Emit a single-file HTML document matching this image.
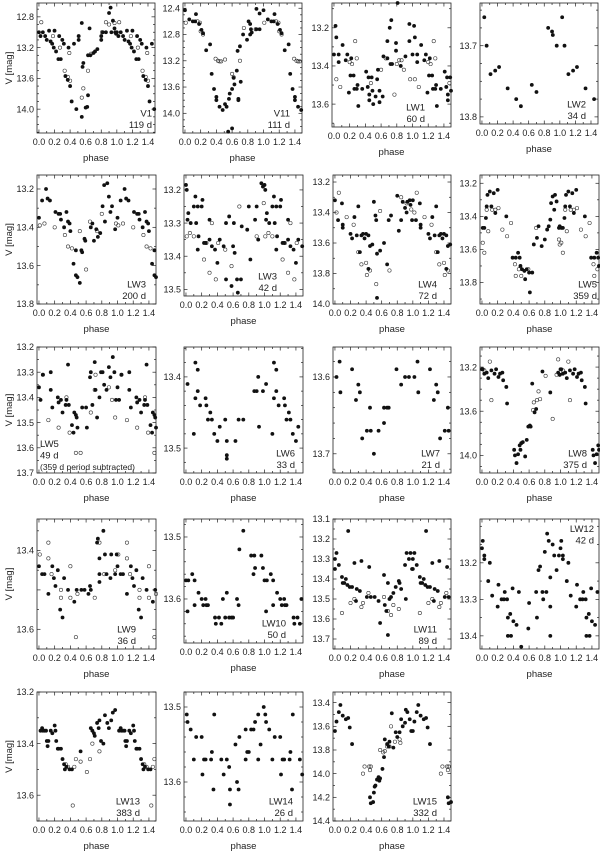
<!DOCTYPE html>
<html><head><meta charset="utf-8"><style>
html,body{margin:0;padding:0;background:#fff;}
svg{display:block;font-family:"Liberation Sans",sans-serif;}
</style></head><body>
<svg id="fig" width="600" height="852" viewBox="0 0 600 852" xmlns="http://www.w3.org/2000/svg"></svg>
<script>
// ---- data: [phase, V mag] for phase 0..1 (plotted again at phase+1) ----
const v1F=[[0,13.0],[0.02,13.05],[0.05,13.0],[0.08,13.05],[0.1,13.1],[0.13,12.98],[0.15,13.12],[0.17,13.15],[0.19,13.2],[0.2,12.98],[0.22,13.25],[0.25,13.35],[0.26,13.05],[0.28,13.35],[0.3,13.1],[0.32,13.15],[0.34,13.57],[0.37,13.62],[0.38,13.2],[0.4,13.7],[0.42,13.9],[0.45,13.15],[0.48,14.0],[0.51,13.1],[0.51,13.05],[0.55,14.1],[0.55,12.88],[0.57,13.4],[0.56,13.45],[0.6,13.98],[0.62,13.97],[0.63,13.82],[0.63,13.3],[0.65,12.95],[0.66,13.3],[0.7,13.27],[0.72,13.25],[0.75,13.22],[0.8,13.05],[0.8,13.1],[0.82,13.0],[0.86,13.0],[0.9,12.75],[0.92,12.68],[0.93,13.0],[0.95,12.85],[0.97,12.95],[0.98,13.0],[0.99,13.02]];
const v1O=[[0.03,12.87],[0.18,13.05],[0.27,13.2],[0.33,13.5],[0.37,13.58],[0.39,13.27],[0.4,13.63],[0.55,13.85],[0.57,13.73],[0.63,13.5],[0.67,13.28],[0.81,13.0],[0.86,12.87],[0.9,12.9],[0.97,12.88]];
const v11F=[[0,12.43],[0.055,12.57],[0.1,12.6],[0.13,12.6],[0.14,12.49],[0.18,12.64],[0.21,12.73],[0.23,12.78],[0.27,13.04],[0.32,12.95],[0.34,13.4],[0.37,13.63],[0.4,13.75],[0.4,13.8],[0.44,13.9],[0.48,13.95],[0.51,13.86],[0.53,13.9],[0.55,14.28],[0.6,14.23],[0.56,13.78],[0.57,13.7],[0.6,13.63],[0.63,13.56],[0.62,13.46],[0.66,13.35],[0.67,13.05],[0.68,13.78],[0.68,13.8],[0.71,13.52],[0.7,12.98],[0.74,12.8],[0.79,12.88],[0.81,12.6],[0.83,12.64],[0.83,12.8],[0.85,12.77],[0.84,12.72],[0.91,12.72],[0.91,12.41],[0.95,12.48],[0.95,12.72]];
const v11O=[[0.01,12.62],[0.16,12.6],[0.19,12.62],[0.2,12.75],[0.23,12.8],[0.39,13.17],[0.42,13.2],[0.44,13.21],[0.46,13.21],[0.51,13.18],[0.7,13.2],[0.6,13.4],[0.62,13.45],[0.75,12.7],[0.9,12.72]];
const lw1F=[[0,13.34],[0.02,13.19],[0.03,13.25],[0.06,13.34],[0.06,13.38],[0.11,13.29],[0.15,13.37],[0.17,13.34],[0.19,13.54],[0.21,13.45],[0.22,13.36],[0.25,13.45],[0.26,13.52],[0.3,13.5],[0.31,13.61],[0.29,13.52],[0.36,13.52],[0.41,13.43],[0.43,13.51],[0.44,13.46],[0.45,13.55],[0.45,13.58],[0.48,13.46],[0.49,13.53],[0.5,13.6],[0.53,13.56],[0.55,13.47],[0.56,13.42],[0.58,13.59],[0.58,13.53],[0.62,13.56],[0.63,13.35],[0.68,13.36],[0.68,13.27],[0.71,13.2],[0.73,13.16],[0.72,13.39],[0.74,13.39],[0.79,13.32],[0.79,13.28],[0.81,13.07],[0.85,13.4],[0.88,13.04],[0.91,13.35],[0.96,13.27],[0.96,13.18]];
const lw1O=[[0.03,13.47],[0.08,13.51],[0.2,13.38],[0.23,13.39],[0.27,13.27],[0.29,13.36],[0.47,13.49],[0.6,13.42],[0.66,13.36],[0.8,13.39],[0.77,13.55],[0.83,13.37],[0.86,13.37],[0.89,13.42],[0.97,13.47]];
const lw2F=[[0.03,13.66],[0.06,13.7],[0.11,13.74],[0.17,13.735],[0.22,13.73],[0.33,13.76],[0.44,13.775],[0.5,13.785],[0.64,13.755],[0.7,13.765],[0.85,13.675],[0.9,13.68],[0.91,13.685],[0.96,13.7]];
const lw2O=[];
const lw3aF=[[0,13.35],[0.04,13.26],[0.09,13.2],[0.11,13.25],[0.14,13.26],[0.21,13.32],[0.25,13.33],[0.27,13.33],[0.28,13.36],[0.32,13.4],[0.35,13.32],[0.37,13.37],[0.39,13.38],[0.4,13.42],[0.47,13.52],[0.44,13.59],[0.47,13.65],[0.49,13.66],[0.52,13.69],[0.54,13.52],[0.55,13.53],[0.58,13.46],[0.59,13.47],[0.66,13.4],[0.68,13.38],[0.7,13.47],[0.73,13.41],[0.75,13.45],[0.78,13.43],[0.81,13.29],[0.83,13.18],[0.84,13.37],[0.87,13.17],[0.89,13.24],[0.91,13.32],[0.93,13.29],[0.97,13.41]];
const lw3aO=[[0.01,13.39],[0.07,13.38],[0.2,13.4],[0.33,13.44],[0.37,13.5],[0.42,13.51],[0.52,13.42],[0.6,13.62],[0.65,13.37],[0.74,13.42],[0.8,13.33],[0.98,13.38]];
const lw3bF=[[0,13.185],[0.01,13.2],[0.03,13.27],[0.02,13.29],[0.06,13.3],[0.1,13.25],[0.12,13.22],[0.13,13.3],[0.15,13.25],[0.16,13.34],[0.15,13.38],[0.2,13.25],[0.21,13.23],[0.23,13.36],[0.25,13.36],[0.3,13.29],[0.3,13.35],[0.33,13.37],[0.37,13.38],[0.4,13.42],[0.43,13.35],[0.48,13.37],[0.51,13.3],[0.51,13.47],[0.55,13.28],[0.58,13.49],[0.6,13.37],[0.61,13.3],[0.62,13.39],[0.65,13.47],[0.66,13.51],[0.7,13.47],[0.71,13.31],[0.78,13.32],[0.8,13.25],[0.82,13.41],[0.88,13.29],[0.9,13.25],[0.92,13.35],[0.96,13.18],[0.98,13.19]];
const lw3bO=[[0.01,13.34],[0.05,13.33],[0.1,13.34],[0.23,13.41],[0.26,13.36],[0.3,13.45],[0.33,13.3],[0.38,13.47],[0.41,13.36],[0.5,13.38],[0.58,13.43],[0.68,13.25],[0.9,13.34],[0.99,13.24]];
const lw4F=[[0,13.32],[0.04,13.45],[0.09,13.34],[0.1,13.48],[0.1,13.5],[0.2,13.54],[0.22,13.57],[0.25,13.43],[0.28,13.55],[0.3,13.36],[0.32,13.66],[0.34,13.55],[0.36,13.54],[0.38,13.57],[0.4,13.54],[0.43,13.55],[0.43,13.77],[0.45,13.62],[0.48,13.61],[0.5,13.33],[0.52,13.42],[0.53,13.45],[0.54,13.67],[0.54,13.96],[0.58,13.65],[0.63,13.6],[0.67,13.74],[0.69,13.45],[0.72,13.42],[0.8,13.29],[0.82,13.52],[0.85,13.45],[0.87,13.33],[0.9,13.37],[0.92,13.4],[0.93,13.33],[0.96,13.32],[0.97,13.35],[0.99,13.45]];
const lw4O=[[0.05,13.27],[0.02,13.4],[0.15,13.43],[0.24,13.48],[0.3,13.66],[0.34,13.74],[0.4,13.73],[0.41,13.81],[0.45,13.78],[0.53,13.87],[0.58,13.39],[0.7,13.78],[0.85,13.3],[0.92,13.34],[0.98,13.38]];
const lw5aF=[[0.01,13.47],[0.03,13.47],[0.05,13.41],[0.06,13.34],[0.07,13.27],[0.1,13.25],[0.12,13.34],[0.15,13.26],[0.17,13.38],[0.2,13.24],[0.31,13.4],[0.39,13.65],[0.43,13.65],[0.46,13.62],[0.48,13.65],[0.49,13.7],[0.51,13.72],[0.54,13.73],[0.55,13.78],[0.57,13.72],[0.6,13.74],[0.61,13.86],[0.64,13.74],[0.66,13.57],[0.7,13.53],[0.72,13.46],[0.76,13.58],[0.8,13.54],[0.83,13.48],[0.85,13.46],[0.87,13.42],[0.88,13.32],[0.9,13.28],[0.92,13.36],[0.93,13.27],[0.95,13.31],[0.98,13.47],[0.99,13.46]];
const lw5aO=[[0.01,13.56],[0.03,13.62],[0.06,13.36],[0.08,13.49],[0.13,13.36],[0.17,13.36],[0.21,13.35],[0.26,13.48],[0.32,13.52],[0.37,13.44],[0.42,13.69],[0.43,13.76],[0.47,13.72],[0.5,13.76],[0.59,13.72],[0.69,13.47],[0.98,13.54],[0.99,13.57]];
const lw5bF=[[0,13.36],[0.02,13.41],[0.05,13.31],[0.15,13.3],[0.15,13.37],[0.17,13.44],[0.24,13.4],[0.25,13.42],[0.28,13.41],[0.3,13.46],[0.34,13.43],[0.35,13.41],[0.37,13.27],[0.38,13.43],[0.42,13.51],[0.44,13.54],[0.45,13.46],[0.47,13.47],[0.48,13.48],[0.49,13.52],[0.55,13.44],[0.6,13.44],[0.61,13.52],[0.65,13.32],[0.66,13.3],[0.68,13.43],[0.71,13.26],[0.72,13.37],[0.74,13.48],[0.77,13.4],[0.79,13.3],[0.81,13.3],[0.83,13.35],[0.86,13.37],[0.89,13.28],[0.91,13.32],[0.94,13.24],[0.96,13.3],[0.98,13.41]];
const lw5bO=[[0.05,13.31],[0.12,13.49],[0.25,13.52],[0.35,13.4],[0.39,13.54],[0.47,13.62],[0.53,13.62],[0.66,13.46],[0.71,13.37],[0.72,13.31],[0.89,13.36],[0.93,13.41],[0.97,13.48]];
const lw6F=[[0.02,13.41],[0.1,13.48],[0.12,13.38],[0.15,13.39],[0.15,13.42],[0.12,13.43],[0.18,13.44],[0.25,13.43],[0.26,13.44],[0.28,13.46],[0.31,13.45],[0.33,13.46],[0.36,13.48],[0.4,13.49],[0.43,13.47],[0.5,13.46],[0.52,13.49],[0.52,13.51],[0.52,13.515],[0.63,13.49],[0.67,13.46],[0.73,13.46],[0.87,13.42],[0.9,13.42],[0.92,13.4],[0.93,13.47],[0.98,13.42]];
const lw6O=[];
const lw7F=[[0.02,13.6],[0.06,13.58],[0.07,13.62],[0.22,13.59],[0.27,13.63],[0.3,13.61],[0.32,13.62],[0.35,13.68],[0.41,13.67],[0.45,13.64],[0.46,13.67],[0.5,13.7],[0.56,13.67],[0.63,13.64],[0.63,13.66],[0.67,13.64],[0.69,13.64],[0.79,13.59],[0.85,13.61],[0.9,13.6],[0.95,13.6]];
const lw7O=[];
const lw8F=[[0,13.22],[0.01,13.22],[0.03,13.26],[0.06,13.25],[0.08,13.3],[0.12,13.23],[0.16,13.26],[0.18,13.22],[0.21,13.29],[0.23,13.26],[0.26,13.25],[0.27,13.32],[0.31,13.38],[0.32,13.53],[0.41,13.95],[0.42,14.0],[0.44,14.07],[0.46,13.99],[0.48,13.91],[0.49,13.95],[0.5,13.89],[0.52,13.88],[0.55,14.01],[0.57,13.86],[0.59,13.74],[0.61,13.73],[0.62,13.74],[0.64,13.35],[0.67,13.61],[0.69,13.58],[0.77,13.24],[0.87,13.43],[0.97,13.25],[0.99,13.27]];
const lw8O=[[0.03,13.23],[0.1,13.15],[0.12,13.5],[0.65,13.59],[0.66,13.52],[0.7,13.5],[0.72,13.42],[0.74,13.49],[0.81,13.28],[0.9,13.67],[0.95,13.27],[0.97,13.13],[0.99,13.27]];
const lw9F=[[0,13.44],[0.04,13.46],[0.07,13.46],[0.12,13.51],[0.17,13.44],[0.19,13.47],[0.21,13.49],[0.24,13.45],[0.27,13.55],[0.3,13.57],[0.32,13.47],[0.37,13.5],[0.45,13.53],[0.48,13.5],[0.54,13.5],[0.58,13.5],[0.63,13.51],[0.65,13.49],[0.66,13.5],[0.74,13.38],[0.75,13.37],[0.77,13.42],[0.77,13.48],[0.77,13.46],[0.82,13.35],[0.86,13.46],[0.84,13.41],[0.91,13.47],[0.92,13.41],[0.97,13.46],[0.99,13.41]];
const lw9O=[[0.01,13.41],[0.12,13.38],[0.12,13.42],[0.16,13.46],[0.28,13.5],[0.28,13.52],[0.4,13.44],[0.4,13.52],[0.47,13.62],[0.49,13.51],[0.71,13.52],[0.77,13.38],[0.83,13.46],[0.97,13.45]];
const lw10F=[[0,13.57],[0.02,13.62],[0.03,13.57],[0.08,13.56],[0.11,13.57],[0.11,13.61],[0.16,13.59],[0.2,13.6],[0.22,13.61],[0.25,13.6],[0.26,13.61],[0.28,13.61],[0.37,13.63],[0.38,13.64],[0.42,13.63],[0.45,13.64],[0.47,13.6],[0.5,13.63],[0.52,13.59],[0.55,13.63],[0.58,13.63],[0.6,13.63],[0.65,13.6],[0.67,13.61],[0.68,13.52],[0.73,13.49],[0.83,13.53],[0.87,13.53],[0.86,13.56],[0.88,13.55],[0.96,13.53],[0.98,13.55]];
const lw10O=[];
const lw11F=[[0,13.3],[0,13.35],[0.02,13.27],[0.05,13.33],[0.09,13.39],[0.1,13.42],[0.12,13.42],[0.14,13.4],[0.16,13.43],[0.17,13.16],[0.19,13.44],[0.22,13.44],[0.25,13.32],[0.27,13.51],[0.28,13.45],[0.32,13.46],[0.34,13.31],[0.41,13.49],[0.44,13.34],[0.46,13.49],[0.51,13.49],[0.56,13.51],[0.58,13.62],[0.63,13.38],[0.64,13.53],[0.66,13.56],[0.68,13.42],[0.68,13.68],[0.7,13.5],[0.72,13.49],[0.75,13.47],[0.78,13.44],[0.82,13.41],[0.83,13.42],[0.85,13.45],[0.9,13.33],[0.91,13.5],[0.92,13.27],[0.95,13.3],[0.97,13.27],[0.99,13.35]];
const lw11O=[[0.09,13.57],[0.2,13.52],[0.25,13.5],[0.34,13.54],[0.36,13.52],[0.43,13.47],[0.63,13.49],[0.68,13.56],[0.72,13.58],[0.75,13.53],[0.82,13.55]];
const lw12F=[[0,13.16],[0.01,13.14],[0.03,13.18],[0.03,13.19],[0.08,13.25],[0.1,13.2],[0.13,13.29],[0.2,13.32],[0.21,13.26],[0.25,13.3],[0.28,13.3],[0.29,13.28],[0.32,13.3],[0.33,13.35],[0.33,13.4],[0.36,13.34],[0.37,13.4],[0.39,13.27],[0.4,13.36],[0.44,13.37],[0.47,13.28],[0.5,13.43],[0.6,13.31],[0.59,13.38],[0.69,13.28],[0.7,13.35],[0.72,13.22],[0.74,13.21],[0.77,13.28],[0.78,13.3],[0.8,13.17],[0.82,13.28],[0.83,13.12],[0.85,13.14],[0.87,13.24],[0.87,13.32],[0.87,13.4],[0.9,13.15],[0.92,13.18],[0.95,13.22],[0.98,13.18]];
const lw12O=[];
const lw13F=[[0.02,13.35],[0.04,13.34],[0.05,13.35],[0.07,13.35],[0.09,13.35],[0.1,13.39],[0.11,13.41],[0.12,13.39],[0.15,13.35],[0.17,13.36],[0.2,13.33],[0.21,13.35],[0.22,13.39],[0.24,13.42],[0.25,13.42],[0.28,13.42],[0.3,13.46],[0.32,13.48],[0.33,13.5],[0.35,13.49],[0.39,13.5],[0.42,13.5],[0.53,13.43],[0.66,13.34],[0.68,13.35],[0.7,13.36],[0.71,13.37],[0.74,13.32],[0.76,13.34],[0.77,13.31],[0.79,13.39],[0.82,13.4],[0.84,13.29],[0.87,13.32],[0.89,13.34],[0.92,13.31],[0.94,13.28],[0.97,13.27]];
const lw13O=[[0.34,13.48],[0.37,13.49],[0.43,13.64],[0.45,13.49],[0.47,13.46],[0.53,13.47],[0.61,13.51],[0.65,13.46],[0.68,13.4],[0.77,13.43]];
const lw14F=[[0.01,13.51],[0.02,13.52],[0.06,13.53],[0.1,13.57],[0.13,13.54],[0.2,13.54],[0.21,13.59],[0.23,13.57],[0.25,13.57],[0.32,13.57],[0.33,13.56],[0.35,13.61],[0.36,13.51],[0.45,13.57],[0.48,13.59],[0.52,13.57],[0.55,13.58],[0.56,13.61],[0.56,13.63],[0.63,13.55],[0.65,13.6],[0.67,13.61],[0.68,13.54],[0.76,13.53],[0.76,13.57],[0.78,13.56],[0.8,13.56],[0.83,13.53],[0.86,13.53],[0.88,13.52],[0.92,13.51],[0.92,13.57],[0.95,13.55],[0.99,13.5]];
const lw14O=[];
const lw15F=[[0,13.64],[0.02,13.56],[0.05,13.48],[0.07,13.42],[0.1,13.51],[0.14,13.54],[0.17,13.53],[0.19,13.61],[0.22,13.75],[0.45,14.2],[0.46,14.25],[0.49,14.24],[0.5,14.16],[0.51,14.11],[0.52,14.1],[0.54,14.05],[0.56,14.03],[0.57,14.06],[0.58,14.04],[0.61,13.96],[0.63,13.86],[0.64,13.71],[0.67,13.75],[0.69,13.77],[0.7,13.73],[0.73,13.49],[0.75,13.78],[0.78,13.65],[0.8,13.69],[0.83,13.65],[0.85,13.54],[0.87,13.6],[0.9,13.57],[0.91,13.46],[0.93,13.48],[0.96,13.54],[0.98,13.64]];
const lw15O=[[0.36,14.0],[0.38,13.94],[0.44,13.94],[0.45,13.97],[0.46,13.94],[0.58,13.8],[0.62,13.82],[0.64,13.81],[0.67,13.77],[0.7,13.77],[0.72,13.6],[0.77,13.73],[0.83,13.71],[0.84,13.74]];

// ---- panel layout (frame in px, y-range in mag, tick values) ----
const panels=[
 {id:'v1',f:v1F,o:v1O,b:[37,155,3,133],y:[12.62,14.31],t:[12.8,13.2,13.6,14.0],m:0.1,lab:['V1','119 d'],lp:'br',lx:3,ylab:true},
 {id:'v11',f:v11F,o:v11O,b:[183,302,3,133],y:[12.32,14.3],t:[12.4,12.8,13.2,13.6,14.0],m:0.1,lab:['V11','111 d'],lp:'br',lx:12},
 {id:'lw1',f:lw1F,o:lw1O,b:[332,451,3,127],y:[13.07,13.72],t:[13.2,13.4,13.6],m:0.1,lab:['LW1','60 d'],lp:'br',lx:26},
 {id:'lw2',f:lw2F,o:lw2O,b:[480,598,3,124],y:[13.64,13.81],t:[13.7,13.8],m:0.025,lab:['LW2','34 d'],lp:'br',lx:12},
 {id:'lw3-200',f:lw3aF,o:lw3aO,b:[37,156,175,304],y:[13.127,13.8],t:[13.2,13.4,13.6,13.8],m:0.1,lab:['LW3','200 d'],lp:'br',lx:10,ylab:true},
 {id:'lw3-42',f:lw3bF,o:lw3bO,b:[184,303,175,296],y:[13.155,13.52],t:[13.2,13.3,13.4,13.5],m:0.05,lab:['LW3','42 d'],lp:'br',lx:26},
 {id:'lw4',f:lw4F,o:lw4O,b:[333,451,175,304],y:[13.154,14.0],t:[13.2,13.4,13.6,13.8,14.0],m:0.1,lab:['LW4','72 d'],lp:'br',lx:14},
 {id:'lw5-359',f:lw5aF,o:lw5aO,b:[480,599,175,304],y:[13.15,13.93],t:[13.2,13.4,13.6,13.8],m:0.1,lab:['LW5','359 d'],lp:'br',lx:2},
 {id:'lw5-49',f:lw5bF,o:lw5bO,b:[37,156,347,473],y:[13.2,13.7],t:[13.2,13.3,13.4,13.5,13.6,13.7],m:0.05,lab:['LW5','49 d','(359 d period subtracted)'],lp:'bl',ylab:true},
 {id:'lw6',f:lw6F,o:lw6O,b:[184,303,347,473],y:[13.358,13.535],t:[13.4,13.5],m:0.02,lab:['LW6','33 d'],lp:'br',lx:8},
 {id:'lw7',f:lw7F,o:lw7O,b:[333,451,347,473],y:[13.561,13.725],t:[13.6,13.7],m:0.02,lab:['LW7','21 d'],lp:'br',lx:11},
 {id:'lw8',f:lw8F,o:lw8O,b:[480,599,347,473],y:[13.018,14.16],t:[13.2,13.6,14.0],m:0.1,lab:['LW8','375 d'],lp:'br',lx:12},
 {id:'lw9',f:lw9F,o:lw9O,b:[37,156,519,649],y:[13.32,13.65],t:[13.4,13.5,13.6],tl:[13.4,13.6],m:0.05,lab:['LW9','36 d'],lp:'br',lx:20,ylab:true},
 {id:'lw10',f:lw10F,o:lw10O,b:[184,303,519,643],y:[13.471,13.671],t:[13.5,13.6],m:0.02,lab:['LW10','50 d'],lp:'br',lx:17},
 {id:'lw11',f:lw11F,o:lw11O,b:[333,451,519,649],y:[13.1,13.75],t:[13.1,13.2,13.3,13.4,13.5,13.6,13.7],m:0.05,lab:['LW11','89 d'],lp:'br',lx:14},
 {id:'lw12',f:lw12F,o:lw12O,b:[480,599,519,649],y:[13.08,13.436],t:[13.2,13.3,13.4],m:0.05,lab:['LW12','42 d'],lp:'tr',lx:5},
 {id:'lw13',f:lw13F,o:lw13O,b:[37,156,692,821],y:[13.2,13.7],t:[13.2,13.4,13.6],m:0.1,lab:['LW13','383 d'],lp:'br',lx:16,ylab:true},
 {id:'lw14',f:lw14F,o:lw14O,b:[184,303,692,821],y:[13.48,13.652],t:[13.5,13.6],m:0.02,lab:['LW14','26 d'],lp:'br',lx:10},
 {id:'lw15',f:lw15F,o:lw15O,b:[333,451,692,821],y:[13.31,14.4],t:[13.4,13.6,13.8,14.0,14.2,14.4],m:0.1,lab:['LW15','332 d'],lp:'br',lx:14}
];
const xTicks=[0,0.2,0.4,0.6,0.8,1.0,1.2,1.4];
const X0=-0.025, X1=1.49;
const NS='http://www.w3.org/2000/svg';
const svg=document.getElementById('fig');
function mk(tag,attrs,parent){const e=document.createElementNS(NS,tag);for(const k in attrs)e.setAttribute(k,attrs[k]);parent.appendChild(e);return e;}
panels.forEach(p=>{
  const [l,r,t,b]=p.b;
  const g=mk('g',{},svg);
  
  
  const sx=v=>l+(v-X0)/(X1-X0)*(r-l);
  const sy=v=>t+(v-p.y[0])/(p.y[1]-p.y[0])*(b-t);
  const fr=mk('rect',{x:l,y:t,width:r-l,height:b-t,fill:'none',stroke:'#222','stroke-width':0.8},g);
  
  
  for(let i=0;i<=14;i++){const v=i/10;const x=sx(v);const len=(i%2==0)?3.5:2;
    mk('line',{x1:x,x2:x,y1:b,y2:b-len,stroke:'#222','stroke-width':0.7},g);
    mk('line',{x1:x,x2:x,y1:t,y2:t+len,stroke:'#222','stroke-width':0.7},g);}
  xTicks.forEach(v=>{const tx=mk('text',{x:sx(v),y:b+12,'font-size':9,'text-anchor':'middle',fill:'#222'},g);tx.textContent=v.toFixed(1);
    
    });
  const ph=mk('text',{x:(l+r)/2,y:b+28,'font-size':9.5,'text-anchor':'middle',fill:'#222'},g);ph.textContent='phase';
  
  
  const start=Math.ceil(p.y[0]/p.m-1e-6);
  for(let k=start;k*p.m<=p.y[1]+1e-9;k++){const v=k*p.m;const y=sy(v);
    const major=p.t.some(tv=>Math.abs(tv-v)<1e-6);const len=major?3.5:2;
    mk('line',{x1:l,x2:l+len,y1:y,y2:y,stroke:'#222','stroke-width':0.7},g);
    mk('line',{x1:r,x2:r-len,y1:y,y2:y,stroke:'#222','stroke-width':0.7},g);}
  (p.tl||p.t).forEach(v=>{const tx=mk('text',{x:l-3,y:sy(v)+3.2,'font-size':9,'text-anchor':'end',fill:'#222'},g);tx.textContent=v.toFixed(1);
    
    });
  if(p.ylab){const yl=mk('text',{x:0,y:0,'font-size':9.5,'text-anchor':'middle',fill:'#222',transform:'translate(12,'+((t+b)/2)+') rotate(-90)'},g);yl.textContent='V [mag]';
    
    }
  const plot=(arr,filled)=>arr.forEach(([ph0,mag])=>{[ph0,ph0+1].forEach(ph=>{if(ph>X1)return;const y=sy(mag);if(y<t||y>b)return;
    const c=mk('circle',{cx:sx(ph),cy:y,r:filled?1.9:1.7,fill:filled?'#111':'none',stroke:'#333','stroke-width':filled?0:0.6},g);
    
    });});
  plot(p.o,false);plot(p.f,true);
  const lx=(p.lx===undefined)?4:p.lx;
  p.lab.forEach((s,i)=>{let x,y,anchor;
    if(p.lp==='br'){x=r-lx;anchor='end';y=b-(p.lab.length-1-i)*11.5-5;}
    else if(p.lp==='tr'){x=r-lx;anchor='end';y=t+13+i*11.5;}
    else {x=l+3;anchor='start';y=b-(p.lab.length-1-i)*11.5-3;}
    const tx=mk('text',{x:x,y:y,'font-size':i==2?8.5:9.5,'text-anchor':anchor,fill:'#222'},g);tx.textContent=s;
    
    });
});
</script>
</body></html>
